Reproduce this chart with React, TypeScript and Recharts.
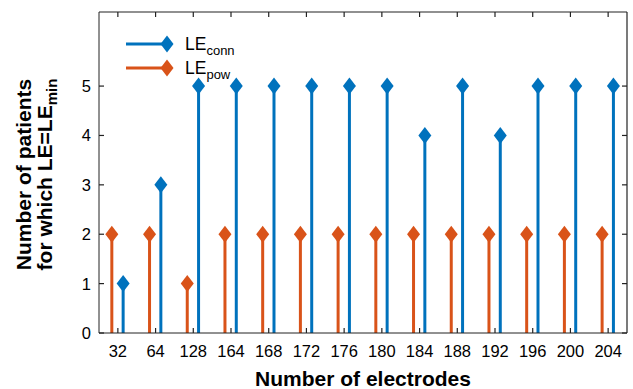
import {
  ComposedChart, Scatter, XAxis, YAxis, ReferenceLine, Legend,
} from 'recharts'

const ELECTRODES = ['32', '64', '128', '164', '168', '172', '176', '180', '184', '188', '192', '196', '200', '204']
const LE_CONN = [1, 3, 5, 5, 5, 5, 5, 5, 4, 5, 4, 5, 5, 5]
const LE_POW = [2, 2, 1, 2, 2, 2, 2, 2, 2, 2, 2, 2, 2, 2]
const Y_TICKS = [0, 1, 2, 3, 4, 5]

const BLUE = '#0072BD'
const ORANGE = '#D95319'
const FRAME = '#222222'
const FONT = '"Liberation Sans", Arial, Helvetica, sans-serif'

// stems of the two series sit either side of each category
const CONN_SHIFT = 0.14
const POW_SHIFT = -0.16
const X_MIN = -0.5, X_MAX = 13.5
const Y_MIN = 0, Y_MAX = 6.5

// chart box
const W = 633, H = 389
const M_TOP = 12, BOTTOM_H = 56, LEFT_W = 99, M_RIGHT = 6
const PLOT_W = W - LEFT_W - M_RIGHT
const PLOT_H = H - M_TOP - BOTTOM_H
const BOX_B = H - BOTTOM_H, BOX_L = LEFT_W

// inward tick length (px) expressed in data units of each axis
const TICK = 5
const TX = TICK * (X_MAX - X_MIN) / PLOT_W
const TY = TICK * (Y_MAX - Y_MIN) / PLOT_H

const X_IDX = ELECTRODES.map((_, i) => i)
const connPts = LE_CONN.map((v, i) => ({ x: i + CONN_SHIFT, y: v }))
const powPts = LE_POW.map((v, i) => ({ x: i + POW_SHIFT, y: v }))

const Diamond = (color: string) => (p: any) => {
  const { cx, cy } = p
  if (cx == null || cy == null) return <g />
  const w = 6.5, h = 8.5
  return <polygon points={`${cx},${cy - h} ${cx + w},${cy} ${cx},${cy + h} ${cx - w},${cy}`} fill={color} />
}

const BottomTick = ({ x, payload }: any) => (
  <text x={x} y={BOX_B + 24} textAnchor="middle" fontSize={16.5} fontFamily={FONT} fill="#000">
    {ELECTRODES[payload.value]}
  </text>
)
const LeftTick = ({ y, payload }: any) => (
  <text x={BOX_L - 8} y={y + 6} textAnchor="end" fontSize={16.5} fontFamily={FONT} fill="#000">
    {payload.value}
  </text>
)

function LegendBox() {
  const row = (y: number, color: string, sub: string) => (
    <g>
      <line x1={6} x2={47} y1={y} y2={y} stroke={color} strokeWidth={3} />
      <polygon points={`47,${y - 8.5} 53.5,${y} 47,${y + 8.5} 40.5,${y}`} fill={color} />
      <text x={65} y={y + 6} fontSize={17.5} fontFamily={FONT} fill="#000">
        LE<tspan dy={5} fontSize={13}>{sub}</tspan>
      </text>
    </g>
  )
  return (
    <svg width={140} height={64}>
      {row(18, BLUE, 'conn')}
      {row(42, ORANGE, 'pow')}
    </svg>
  )
}

function YLabel(props: any) {
  const { viewBox } = props
  const cx = 35
  const cy = viewBox.y + viewBox.height / 2 + 2
  return (
    <text transform={`rotate(-90 ${cx} ${cy})`} x={cx} y={cy} textAnchor="middle"
      fontSize={21} fontWeight="bold" fontFamily={FONT} fill="#000">
      <tspan x={cx} dy={-4}>Number of patients</tspan>
      <tspan x={cx} dy={21}>for which LE=LE<tspan dy={5} fontSize={15}>min</tspan></tspan>
    </text>
  )
}

const tickLine = (key: string, a: { x: number; y: number }, b: { x: number; y: number }) => (
  <ReferenceLine key={key} segment={[a, b]} stroke={FRAME} strokeWidth={1.2} ifOverflow="visible" />
)

export default function App() {
  return (
    <div style={{ position: 'fixed', left: 0, top: 0, background: '#fff' }}>
      <ComposedChart width={W} height={H} margin={{ top: M_TOP, right: M_RIGHT, left: 0, bottom: 0 }}>
        <XAxis type="number" dataKey="x" domain={[X_MIN, X_MAX]} ticks={X_IDX}
          allowDataOverflow interval={0} height={BOTTOM_H} stroke={FRAME} tickLine={false} tick={<BottomTick />}
          label={{ value: 'Number of electrodes', position: 'insideBottom', offset: 3,
            style: { fontSize: 21, fontWeight: 'bold', fill: '#000', fontFamily: FONT } }} />
        <YAxis type="number" dataKey="y" domain={[Y_MIN, Y_MAX]} ticks={Y_TICKS}
          allowDataOverflow interval={0} width={LEFT_W} stroke={FRAME} tickLine={false} tick={<LeftTick />}
          label={<YLabel />} />

        {/* box: top and right edges plus inward ticks on all four sides */}
        <ReferenceLine y={Y_MAX} stroke={FRAME} strokeWidth={1.2} ifOverflow="visible" />
        <ReferenceLine x={X_MAX} stroke={FRAME} strokeWidth={1.2} ifOverflow="visible" />
        {X_IDX.map((i) => tickLine(`b${i}`, { x: i, y: Y_MIN }, { x: i, y: Y_MIN + TY }))}
        {X_IDX.map((i) => tickLine(`t${i}`, { x: i, y: Y_MAX - TY }, { x: i, y: Y_MAX }))}
        {Y_TICKS.map((v) => tickLine(`l${v}`, { x: X_MIN, y: v }, { x: X_MIN + TX, y: v }))}
        {Y_TICKS.map((v) => tickLine(`r${v}`, { x: X_MAX - TX, y: v }, { x: X_MAX, y: v }))}

        {powPts.map((p, i) => (
          <ReferenceLine key={`p${i}`} segment={[{ x: p.x, y: 0 }, { x: p.x, y: p.y }]}
            stroke={ORANGE} strokeWidth={3} />
        ))}
        {connPts.map((p, i) => (
          <ReferenceLine key={`c${i}`} segment={[{ x: p.x, y: 0 }, { x: p.x, y: p.y }]}
            stroke={BLUE} strokeWidth={3} />
        ))}
        <Scatter name="LEpow" data={powPts} fill={ORANGE} shape={Diamond(ORANGE)} isAnimationActive={false} />
        <Scatter name="LEconn" data={connPts} fill={BLUE} shape={Diamond(BLUE)} isAnimationActive={false} />
        <Legend layout="vertical" align="center" verticalAlign="middle" content={() => <LegendBox />}
          wrapperStyle={{ left: 120, top: 26, width: 140, height: 64 }} />
      </ComposedChart>
    </div>
  )
}
